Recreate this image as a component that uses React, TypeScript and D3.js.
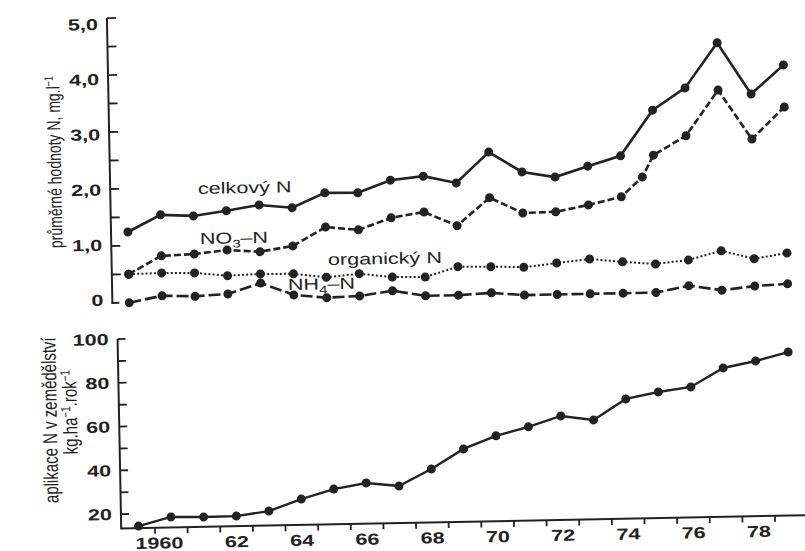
import React from "react";
import * as d3 from "d3";

// ---- data ----
const years = [1959, 1960, 1961, 1962, 1963, 1964, 1965, 1966, 1967, 1968, 1969, 1970, 1971, 1972, 1973, 1974, 1975, 1976, 1977, 1978, 1979];
const celkovyN = [1.24, 1.53, 1.5, 1.58, 1.67, 1.61, 1.86, 1.85, 2.06, 2.12, 1.99, 2.52, 2.16, 2.06, 2.24, 2.41, 3.2, 3.58, 4.36, 3.45, 3.95];
const no3Years = [1959, 1960, 1961, 1962, 1963, 1964, 1965, 1966, 1967, 1968, 1969, 1970, 1971, 1972, 1973, 1974, 1974.65, 1975, 1976, 1977, 1978, 1979];
const no3N = [0.5, 0.81, 0.83, 0.89, 0.85, 0.94, 1.26, 1.2, 1.4, 1.49, 1.24, 1.72, 1.44, 1.45, 1.56, 1.69, 2.03, 2.41, 2.74, 3.53, 2.66, 3.21];
const organickyN = [0.5, 0.51, 0.5, 0.44, 0.46, 0.45, 0.38, 0.43, 0.36, 0.35, 0.52, 0.51, 0.49, 0.55, 0.61, 0.55, 0.5, 0.56, 0.71, 0.56, 0.65];
const nh4N = [0.0, 0.11, 0.09, 0.12, 0.3, 0.08, 0.02, 0.04, 0.12, 0.02, 0.02, 0.05, 0.0, 0.0, 0.0, 0.0, 0.0, 0.11, 0.02, 0.08, 0.11];
const aplikace = [14.4, 18.3, 18.0, 18.1, 20.1, 25.3, 29.6, 32.1, 30.4, 37.9, 46.8, 52.5, 56.3, 61.0, 58.9, 68.2, 71.1, 73.1, 81.5, 84.4, 88.2];

const topTickValues = [0, 1, 2, 3, 4, 5];
const topTickLabels = ["0", "1,0", "2,0", "3,0", "4,0", "5,0"];
const botTickValues = [20, 40, 60, 80, 100];
const xLabelYears = [1960, 1962, 1964, 1966, 1968, 1970, 1972, 1974, 1976, 1978];
const xLabelTexts = ["1960", "62", "64", "66", "68", "70", "72", "74", "76", "78"];

const INK = "#222";
const FONT = "'Liberation Sans', Arial, Helvetica, sans-serif";
const SX = 1.35;

function SText({ x, y, anchor = "start", size = 16, weight = "normal", children }: any) {
  return (
    <text
      transform={`translate(${x},${y}) scale(${SX},1)`}
      textAnchor={anchor}
      fontSize={size}
      fontWeight={weight}
      fill={INK}
    >
      {children}
    </text>
  );
}

export default function App() {
  const W = 805, H = 551;
  const xTop = d3.scaleLinear().domain([1959, 1979]).range([128.9, 787.5]);
  const yTop = d3.scaleLinear().domain([0, 5]).range([296.5, 11.5]);
  // the printed tick numbers sit on a slightly tighter spacing than the ticks
  const yTopLabel = d3.scaleLinear().domain([0, 5]).range([293.5, 17.5]);
  const xBot = d3.scaleLinear().domain([1959, 1979]).range([133.9, 786.7]);
  const yBot = d3.scaleLinear().domain([20, 100]).range([507.8, 332.7]);
  const botMin = 13.5;

  const topAxisX = 112;
  const botAxisX = 116.5;
  const botAxisY = yBot(botMin);

  const lineTop = (xs: number[], ys: number[]) =>
    d3.line<number>().x((_, i) => xTop(xs[i])).y((v) => yTop(v))(ys) || "";
  const lineBot = d3.line<number>().x((_, i) => xBot(years[i])).y((v) => yBot(v));

  const topMinor = yTop.ticks(10).filter((v) => v > 0);
  const botMinor = d3.range(20, 101, 10);
  const halfYears = years.slice(0, -1).map((y) => y + 0.5);

  const series = [
    { xs: years, ys: celkovyN, dash: "none", w: 2.6 },
    { xs: no3Years, ys: no3N, dash: "7 3", w: 2.6 },
    { xs: years, ys: organickyN, dash: "2 2.2", w: 2 },
    { xs: years, ys: nh4N, dash: "12 4", w: 2.6 },
  ];

  return (
    <svg
      width={W}
      height={H}
      style={{ position: "fixed", left: 0, top: 0, background: "#fff" }}
      fontFamily={FONT}
    >
      <rect width={W} height={H} fill="#fff" />
      <g transform="rotate(-1.1 450 280)">
        {/* ---------- top panel ---------- */}
        <line x1={topAxisX} x2={topAxisX} y1={yTop(5)} y2={yTop(0)} stroke={INK} strokeWidth={2} />
        <line x1={topAxisX - 1} x2={topAxisX + 7} y1={yTop(0)} y2={yTop(0)} stroke={INK} strokeWidth={2} />
        {topMinor.map((v) => (
          <line key={v} x1={topAxisX} x2={topAxisX + 9} y1={yTop(v)} y2={yTop(v)} stroke={INK} strokeWidth={1.8} />
        ))}
        {topTickValues.map((v, i) => (
          <SText key={v} x={103} y={yTopLabel(v) + 5.7} anchor="end" weight="bold">
            {topTickLabels[i]}
          </SText>
        ))}
        <text
          transform={`translate(63.3,154.5) rotate(-90) scale(1,${SX})`}
          textAnchor="middle"
          fontSize={14}
          fill={INK}
        >
          průměrné hodnoty N, mg.l
          <tspan dy={-5} fontSize={9}>−1</tspan>
        </text>

        {series.map((s, k) => (
          <g key={k}>
            <path d={lineTop(s.xs, s.ys)} fill="none" stroke={INK} strokeWidth={s.w} strokeDasharray={s.dash} />
            {s.ys.map((v, i) => (
              <circle key={i} cx={xTop(s.xs[i])} cy={yTop(v)} r={4.5} fill={INK} />
            ))}
          </g>
        ))}

        <SText x={199.7} y={189.2}>celkový N</SText>
        <SText x={200.7} y={239.2}>
          NO<tspan dy={4} fontSize={11}>3</tspan>
          <tspan dy={-4}>–N</tspan>
        </SText>
        <SText x={328.3} y={262.7}>organický N</SText>
        <SText x={287.8} y={286.9}>
          NH<tspan dy={4} fontSize={11}>4</tspan>
          <tspan dy={-4}>–N</tspan>
        </SText>

        {/* ---------- bottom panel ---------- */}
        <line x1={botAxisX} x2={botAxisX} y1={yBot(100)} y2={botAxisY} stroke={INK} strokeWidth={2} />
        <line x1={botAxisX - 1} x2={820} y1={botAxisY} y2={botAxisY} stroke={INK} strokeWidth={2} />
        {botMinor.map((v) => (
          <line key={v} x1={botAxisX} x2={botAxisX + 8} y1={yBot(v)} y2={yBot(v)} stroke={INK} strokeWidth={1.8} />
        ))}
        {botTickValues.map((v) => (
          <SText key={v} x={107.5} y={yBot(v) + 5.7} anchor="end" weight="bold">
            {String(v)}
          </SText>
        ))}
        {halfYears.map((y) => (
          <line key={y} x1={xBot(y)} x2={xBot(y)} y1={botAxisY} y2={botAxisY + 6} stroke={INK} strokeWidth={1.8} />
        ))}
        {xLabelYears.map((y, i) =>
          i === 0 ? (
            <SText key={y} x={xBot(y) + 12} y={543} anchor="end" weight="bold">
              {xLabelTexts[i]}
            </SText>
          ) : (
            <SText key={y} x={xBot(y)} y={543} anchor="middle" weight="bold">
              {xLabelTexts[i]}
            </SText>
          )
        )}
        <text
          transform={`translate(54.3,412.5) rotate(-90) scale(1,${SX})`}
          textAnchor="middle"
          fontSize={15}
          fill={INK}
        >
          aplikace N v zemědělství
        </text>
        <text
          transform={`translate(74.5,404.8) rotate(-90) scale(1,${SX})`}
          textAnchor="middle"
          fontSize={15}
          fill={INK}
        >
          kg.ha<tspan dy={-5} fontSize={10}>−1</tspan>
          <tspan dy={5}>.rok</tspan>
          <tspan dy={-5} fontSize={10}>−1</tspan>
        </text>

        <path d={lineBot(aplikace) || ""} fill="none" stroke={INK} strokeWidth={2.4} />
        {aplikace.map((v, i) => (
          <circle key={i} cx={xBot(years[i])} cy={yBot(v)} r={4.5} fill={INK} />
        ))}
      </g>
    </svg>
  );
}
